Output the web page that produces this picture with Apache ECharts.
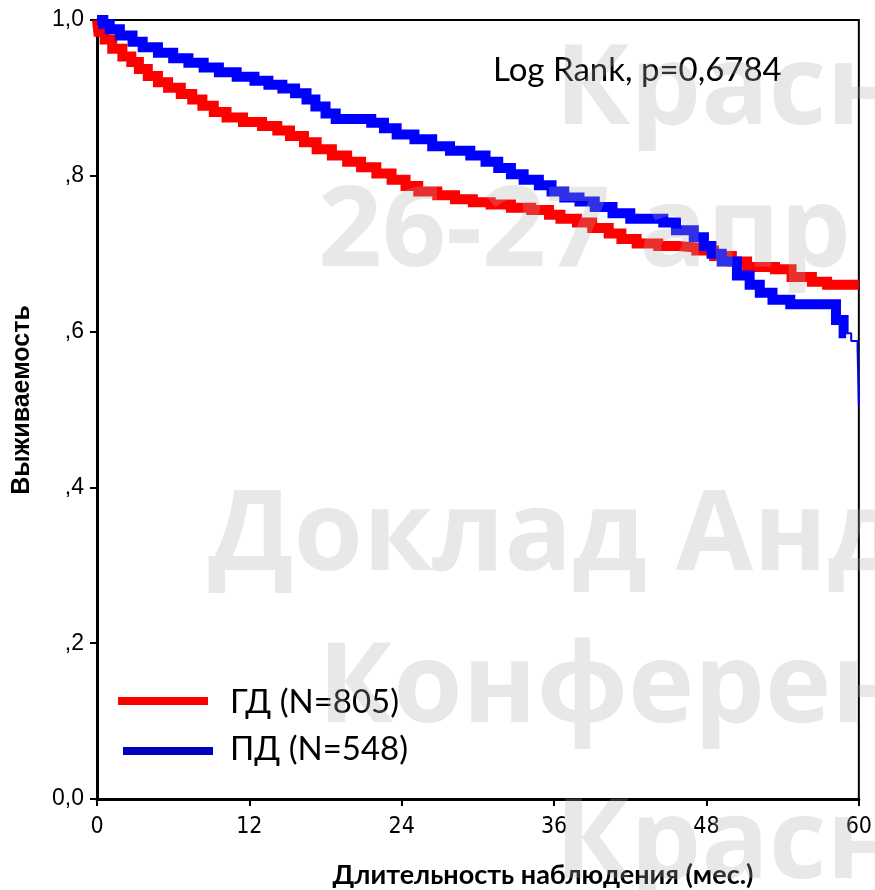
<!DOCTYPE html>
<html>
<head>
<meta charset="utf-8">
<title>Выживаемость</title>
<script src="https://cdn.jsdelivr.net/npm/echarts@6/dist/echarts.min.js"></script>
<style>
  html, body { margin: 0; padding: 0; background: #fff; }
  #chart { width: 875px; height: 890px; }
</style>
</head>
<body>
<div id="chart"></div>
<script>
// ГД group: event times (months) and survival
const gdTime = [0, 0.1, 0.6, 1.2, 2.0, 2.7, 3.3, 4.0, 4.8, 5.6, 6.6, 7.5, 8.3, 9.2, 10.2, 11.5, 13.0, 14.2, 15.2, 16.3,
  17.3, 18.5, 19.7, 20.8, 22.0, 23.2, 24.3, 25.3, 26.8, 28.2, 29.6, 31.0, 32.6, 34.2, 35.6, 36.5, 37.8, 39.0, 40.3,
  41.3, 42.5, 44.2, 45.8, 47.2, 48.6, 50.0, 51.2, 53.4, 54.7, 56.3, 57.5, 60];
const gdSurv = [1.0, 0.985, 0.975, 0.963, 0.953, 0.946, 0.937, 0.928, 0.920, 0.913, 0.905, 0.898, 0.890, 0.882, 0.875,
  0.869, 0.864, 0.858, 0.851, 0.843, 0.834, 0.826, 0.818, 0.811, 0.803, 0.795, 0.787, 0.780, 0.775, 0.770, 0.766,
  0.763, 0.759, 0.756, 0.750, 0.745, 0.740, 0.733, 0.726, 0.719, 0.713, 0.710, 0.708, 0.704, 0.697, 0.690, 0.683,
  0.680, 0.670, 0.664, 0.660, 0.660];

// ПД group
const pdTime = [0, 0.5, 1.0, 1.8, 2.8, 3.6, 4.8, 6.0, 7.2, 8.4, 9.6, 11.0, 12.4, 13.5, 14.6, 15.6, 16.5, 17.2, 18.0,
  18.8, 21.6, 22.6, 23.6, 25.0, 26.4, 27.8, 29.4, 30.6, 31.6, 32.6, 33.6, 34.8, 35.8, 36.8, 38.0, 39.2, 40.6, 42.0,
  44.6, 45.6, 47.0, 47.8, 48.4, 49.2, 50.4, 51.4, 52.2, 53.2, 54.6, 58.2, 58.8, 59.4, 59.9, 60];
const pdSurv = [1.0, 0.995, 0.988, 0.980, 0.972, 0.965, 0.958, 0.951, 0.945, 0.939, 0.933, 0.927, 0.922, 0.917, 0.912,
  0.906, 0.898, 0.889, 0.880, 0.873, 0.868, 0.861, 0.853, 0.847, 0.838, 0.832, 0.826, 0.818, 0.810, 0.802, 0.795,
  0.788, 0.780, 0.772, 0.767, 0.760, 0.752, 0.745, 0.740, 0.730, 0.721, 0.710, 0.700, 0.690, 0.672, 0.660, 0.650,
  0.641, 0.635, 0.615, 0.598, 0.588, 0.578, 0.505];
// censor marks are dense (thick band) up to this time for ПД
const pdDenseEnd = 59.0;

const xTicks = [0, 12, 24, 36, 48, 60];
const yTicks = [0, 0.2, 0.4, 0.6, 0.8, 1.0];
const yTickLabels = ['0,0', ',2', ',4', ',6', ',8', '1,0'];

function pairs(t, s) { return t.map((v, i) => [v, s[i]]); }
function survAt(t, s, x) {
  let v = s[0];
  for (let i = 0; i < t.length; i++) if (t[i] <= x) v = s[i];
  return v;
}

const gdData = pairs(gdTime, gdSurv);
const pdData = pairs(pdTime, pdSurv);
const pdDense = pdData.filter(p => p[0] <= pdDenseEnd);
pdDense.push([pdDenseEnd, survAt(pdTime, pdSurv, pdDenseEnd)]);

const chart = echarts.init(document.getElementById('chart'));

const wmFill = 'rgba(172,172,165,0.28)';
function wm(text, x, y) {
  return {
    type: 'text', x: x, y: y, z: 100, silent: true,
    style: {
      text: text, fill: wmFill,
      font: 'bold 112px "Open Sans", "Noto Sans", sans-serif',
      verticalAlign: 'top',
      shadowBlur: 6, shadowColor: 'rgba(150,150,150,0.3)'
    }
  };
}

const txtFont = 'Lato, "Open Sans", sans-serif';

chart.setOption({
  animation: false,
  backgroundColor: '#fff',
  grid: { left: 97, right: 16, top: 20, bottom: 91, show: true, borderColor: '#000', borderWidth: 2, backgroundColor: 'transparent' },
  xAxis: {
    type: 'value', min: 0, max: 60, interval: 12,
    axisLine: { lineStyle: { color: '#000', width: 3 } },
    axisTick: { show: true, length: 7, lineStyle: { color: '#000', width: 2 } },
    splitLine: { show: false },
    axisLabel: {
      color: '#000', fontSize: 23, margin: 17,
      fontFamily: '"Liberation Sans Narrow", "DejaVu Sans Condensed", "Liberation Sans", sans-serif',
      formatter: v => xTicks.indexOf(v) >= 0 ? String(v) : ''
    }
  },
  yAxis: {
    type: 'value', min: 0, max: 1, interval: 0.2,
    axisLine: { show: true, lineStyle: { color: '#000', width: 3 } },
    axisTick: { show: true, length: 7, lineStyle: { color: '#000', width: 2 } },
    splitLine: { show: false },
    axisLabel: {
      color: '#000', fontSize: 23, margin: 13,
      fontFamily: '"Liberation Sans", Arial, sans-serif',
      formatter: v => {
        const i = yTicks.findIndex(t => Math.abs(t - v) < 1e-6);
        return i >= 0 ? yTickLabels[i] : '';
      }
    }
  },
  series: [
    {
      name: 'ГД', type: 'line', step: 'end', data: gdData, showSymbol: false,
      lineStyle: { color: '#ff0000', width: 10, cap: 'butt', join: 'miter' }, z: 3
    },
    {
      name: 'ПД thin', type: 'line', step: 'end', data: pdData, showSymbol: false,
      lineStyle: { color: '#0000ff', width: 2 }, z: 4
    },
    {
      name: 'ПД', type: 'line', step: 'end', data: pdDense, showSymbol: false,
      lineStyle: { color: '#0000ff', width: 10, cap: 'butt', join: 'miter' }, z: 4
    }
  ],
  graphic: [
    { type: 'text', x: 543, y: 875, z: 50,
      style: { text: 'Длительность наблюдения (мес.)', fill: '#000', font: 'bold 27px ' + txtFont, align: 'center', verticalAlign: 'middle' } },
    { type: 'text', x: 22, y: 400, z: 50, rotation: Math.PI / 2,
      style: { text: 'Выживаемость', fill: '#000', font: 'bold 25px "Liberation Sans", Arial, sans-serif', align: 'center', verticalAlign: 'middle' } },
    { type: 'text', x: 493, y: 70, z: 50,
      style: { text: 'Log Rank, p=0,6784', fill: '#000', font: '33px ' + txtFont, verticalAlign: 'middle' } },
    { type: 'line', z: 50, shape: { x1: 118, y1: 701, x2: 208, y2: 701 }, style: { stroke: '#ff0000', lineWidth: 8 } },
    { type: 'text', x: 230, y: 702, z: 50,
      style: { text: 'ГД (N=805)', fill: '#000', font: '33px ' + txtFont, verticalAlign: 'middle' } },
    { type: 'line', z: 50, shape: { x1: 123, y1: 751, x2: 213, y2: 751 }, style: { stroke: '#0000c0', lineWidth: 8 } },
    { type: 'text', x: 230, y: 749, z: 50,
      style: { text: 'ПД (N=548)', fill: '#000', font: '33px ' + txtFont, verticalAlign: 'middle' } },
    wm('Красн', 555, 36),
    wm('26-27 апр', 318, 178),
    wm('Доклад Анд', 208, 482),
    wm('Конферен', 318, 634),
    wm('Красн', 555, 790)
  ]
});
</script>
</body>
</html>
